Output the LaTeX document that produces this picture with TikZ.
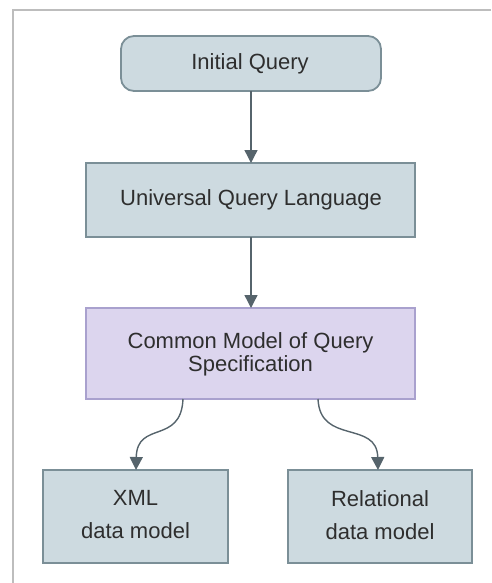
\documentclass[tikz,border=0pt]{standalone}
\usepackage{fontspec}
\setmainfont{Liberation Sans}
\usetikzlibrary{arrows.meta}
\definecolor{boxfill}{HTML}{CDDAE0}
\definecolor{boxline}{HTML}{7B8F97}
\definecolor{specfill}{HTML}{DCD5EE}
\definecolor{specline}{HTML}{A9A1CE}
\definecolor{linkcol}{HTML}{56646C}
\definecolor{textcol}{HTML}{2E2E2E}
\definecolor{framecol}{HTML}{BDBDBD}
\tikzset{
  stepbox/.style={draw=boxline, fill=boxfill, line width=1.8pt, inner sep=0pt},
  specbox/.style={draw=specline, fill=specfill, line width=1.8pt, inner sep=0pt},
  label text/.style={text=textcol, font=\fontsize{22}{24}\selectfont, align=center},
  wide text/.style={label text, font=\fontsize{22}{33}\selectfont},
  link/.style={draw=linkcol, line width=1.4pt, -{Triangle[length=13pt,width=13pt]}},
}
\begin{document}
\begin{tikzpicture}[x=1pt,y=-1pt]
  \useasboundingbox (0,0) rectangle (491,583);
  % outer frame
  \draw[framecol, line width=1.5pt] (491,10) -- (13,10) -- (13,583);
  % boxes
  \draw[stepbox, rounded corners=13pt] (121,36) rectangle (381,91);
  \node[label text] (q0) at (250,63.5) {Initial Query};
  \coordinate (q0s) at (251,91);
  \draw[stepbox] (86,163) rectangle (415,237);
  \node[label text] (uql) at (251,200) {Universal Query Language};
  \coordinate (uqln) at (251,163);
  \coordinate (uqls) at (251,237);
  \draw[specbox] (86,308) rectangle (415,399);
  \node[label text] (cm) at (250.5,354) {Common Model of Query\\[-1pt]Specification};
  \coordinate (cmn) at (251,308);
  \coordinate (cml) at (183,399);
  \coordinate (cmr) at (318,399);
  \draw[stepbox] (43,470) rectangle (228,563);
  \node[wide text] (xml) at (135.5,515) {XML\\data model};
  \coordinate (xmln) at (136,470);
  \draw[stepbox] (288,470) rectangle (472,563);
  \node[wide text] (rel) at (380,515) {Relational\\data model};
  \coordinate (reln) at (378,470);
  % connectors
  \draw[link] (q0s) -- (uqln);
  \draw[link] (uqls) -- (cmn);
  \draw[link] (cml) .. controls (181,445) and (137,420) .. (xmln);
  \draw[link] (cmr) .. controls (320,445) and (377,420) .. (reln);
\end{tikzpicture}
\end{document}
